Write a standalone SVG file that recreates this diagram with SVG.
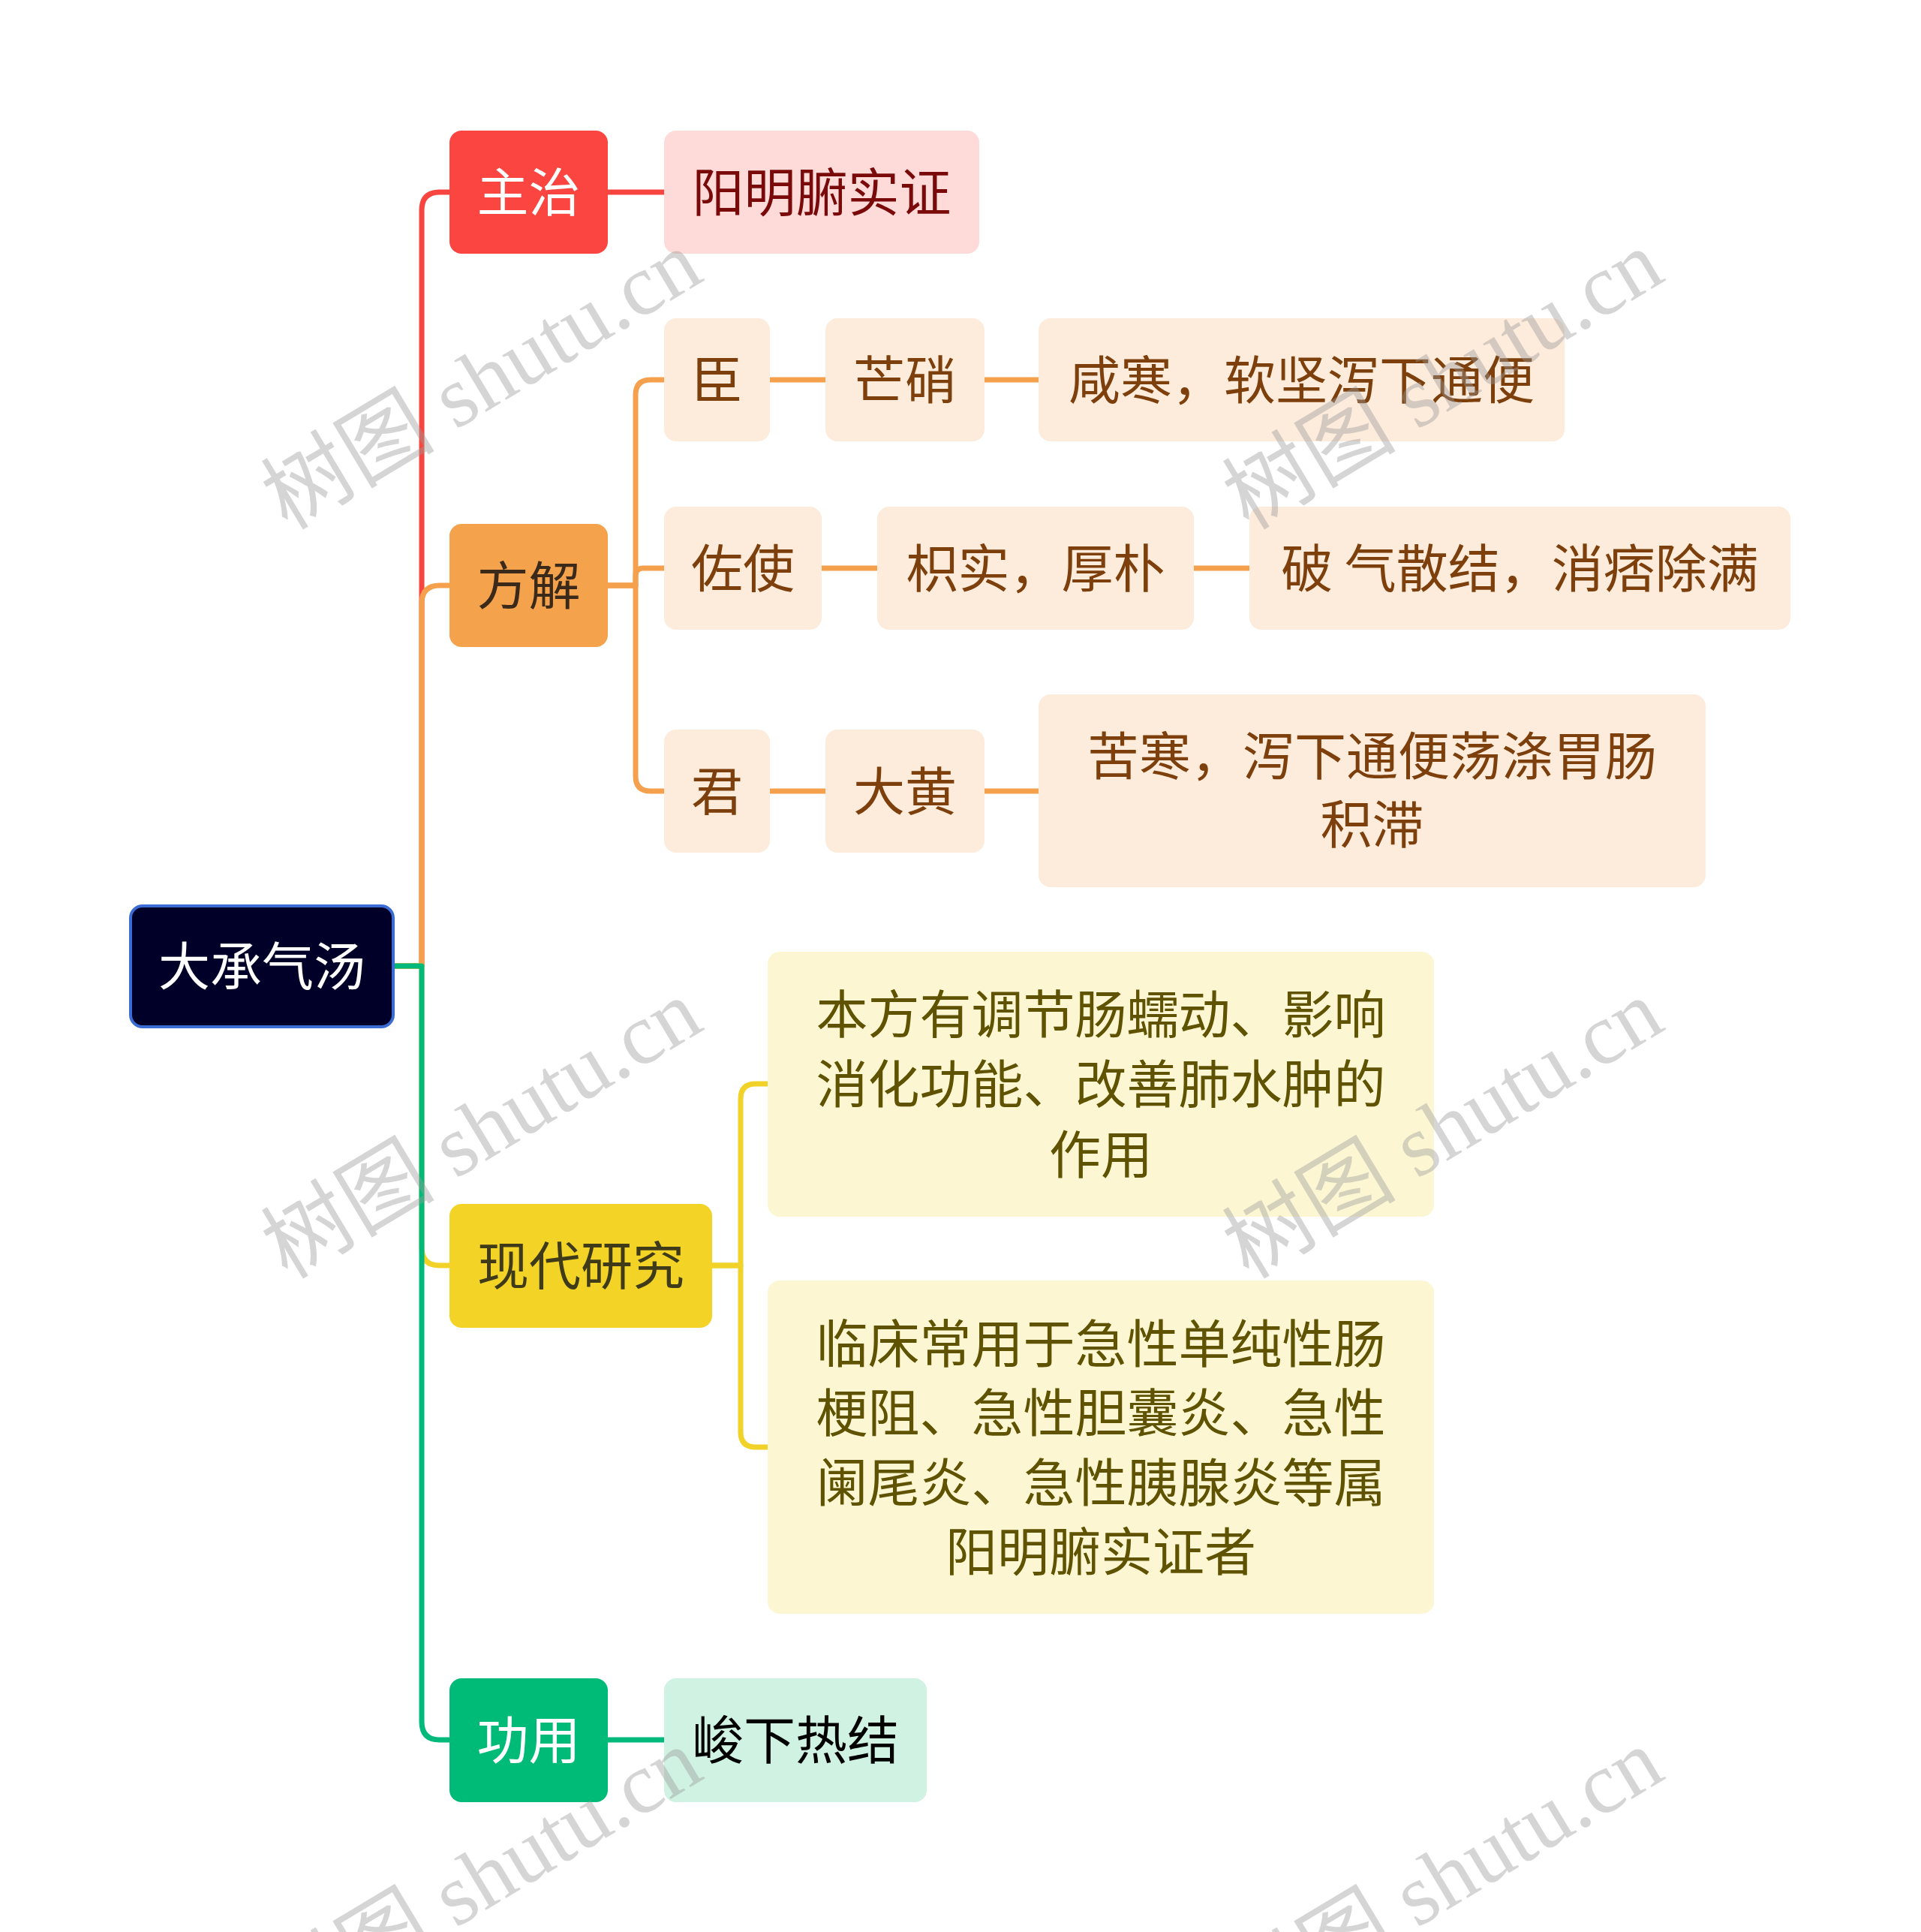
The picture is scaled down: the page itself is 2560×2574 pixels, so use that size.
<svg xmlns="http://www.w3.org/2000/svg" width="2560" height="2574" viewBox="0 0 2560 2574">
<style>
text{font-family:"Noto Sans CJK SC","Noto Sans",sans-serif;font-size:69px;text-anchor:middle}
.ln{fill:none;stroke-width:7;stroke-linecap:round;stroke-linejoin:round}
.red{stroke:#f8453f}.org{stroke:#f4a04c}.yel{stroke:#f0d228}.grn{stroke:#00b97a}
.pch{fill:#fdebdb}.pt{fill:#7d3f0b}
.ylt{fill:#fcf6d3}.yt{fill:#5f5200}
.wm{font-family:"Liberation Serif","Noto Sans CJK SC",serif;font-size:116px;fill:#9a9a9a;fill-opacity:0.42}
</style>
<rect width="2560" height="2574" fill="#ffffff"/>
<g id="connectors">
<path class="ln red" d="M524,1287 H562 V280 Q562,256 586,256 H599"/>
<path class="ln org" d="M524,1287 H562 V804 Q562,780 586,780 H599"/>
<path class="ln yel" d="M524,1287 H562 V1662 Q562,1686 586,1686 H599"/>
<path class="ln grn" d="M524,1287 H562 V2294 Q562,2318 586,2318 H599"/>
<path class="ln red" d="M810,256 H885"/>
<path class="ln org" d="M810,780 H847 V526 Q847,506 867,506 H885"/>
<path class="ln org" d="M810,780 H847 V767 Q847,757 857,757 H885"/>
<path class="ln org" d="M810,780 H847 V1034 Q847,1054 867,1054 H885"/>
<path class="ln org" d="M1026,506 H1100"/>
<path class="ln org" d="M1312,506 H1384"/>
<path class="ln org" d="M1095,757 H1169"/>
<path class="ln org" d="M1591,757 H1665"/>
<path class="ln org" d="M1026,1054 H1100"/>
<path class="ln org" d="M1312,1054 H1384"/>
<path class="ln yel" d="M949,1686 H987 V1464 Q987,1444 1007,1444 H1023"/>
<path class="ln yel" d="M949,1686 H987 V1908 Q987,1928 1007,1928 H1023"/>
<path class="ln grn" d="M810,2318 H885"/>
</g>
<g id="root">
<rect x="174" y="1207" width="350" height="161" rx="16" fill="#000028" stroke="#3a6cd4" stroke-width="4"/>
<text x="349" y="1313" fill="#ffffff">大承气汤</text>
</g>
<g id="zhuzhi">
<rect x="599" y="174" width="211" height="164" rx="16" fill="#fa4540"/>
<text x="704.5" y="282" fill="#ffffff">主治</text>
</g>
<g id="yangming">
<rect x="885" y="174" width="420" height="164" rx="16" fill="#fedad9"/>
<text x="1095" y="282" fill="#7a0a0a">阳明腑实证</text>
</g>
<g id="fangjie">
<rect x="599" y="698" width="211" height="164" rx="16" fill="#f5a24d"/>
<text x="704.5" y="806" fill="#3b2a1a">方解</text>
</g>
<g id="chen">
<rect class="pch" x="885" y="424" width="141" height="164" rx="16"/>
<text class="pt" x="955.5" y="532">臣</text>
</g>
<g id="mangxiao">
<rect class="pch" x="1100" y="424" width="212" height="164" rx="16"/>
<text class="pt" x="1206" y="532">芒硝</text>
</g>
<g id="xianhan">
<rect class="pch" x="1384" y="424" width="701" height="164" rx="16"/>
<text class="pt" x="1734.5" y="532">咸寒，软坚泻下通便</text>
</g>
<g id="zuoshi">
<rect class="pch" x="885" y="675" width="210" height="164" rx="16"/>
<text class="pt" x="990" y="783">佐使</text>
</g>
<g id="zhishi">
<rect class="pch" x="1169" y="675" width="422" height="164" rx="16"/>
<text class="pt" x="1380" y="783">枳实，厚朴</text>
</g>
<g id="poqi">
<rect class="pch" x="1665" y="675" width="721" height="164" rx="16"/>
<text class="pt" x="2025.5" y="783">破 气散结，消痞除满</text>
</g>
<g id="jun">
<rect class="pch" x="885" y="972" width="141" height="164" rx="16"/>
<text class="pt" x="955.5" y="1080">君</text>
</g>
<g id="dahuang">
<rect class="pch" x="1100" y="972" width="212" height="164" rx="16"/>
<text class="pt" x="1206" y="1080">大黄</text>
</g>
<g id="kuhan">
<rect class="pch" x="1384" y="925" width="889" height="257" rx="16"/>
<text class="pt" x="1828.5" y="1033">苦寒，泻下通便荡涤胃肠</text>
<text class="pt" x="1828.5" y="1124">积滞</text>
</g>
<g id="xiandai">
<rect x="599" y="1604" width="350" height="165" rx="16" fill="#f2d326"/>
<text x="774" y="1712" fill="#3f3a17">现代研究</text>
</g>
<g id="benfang">
<rect class="ylt" x="1023" y="1268" width="888" height="353" rx="16"/>
<text class="yt" x="1467" y="1377">本方有调节肠蠕动、影响</text>
<text class="yt" x="1467" y="1470">消化功能、改善肺水肿的</text>
<text class="yt" x="1467" y="1564">作用</text>
</g>
<g id="linchuang">
<rect class="ylt" x="1023" y="1706" width="888" height="444" rx="16"/>
<text class="yt" x="1467" y="1816">临床常用于急性单纯性肠</text>
<text class="yt" x="1467" y="1908">梗阻、急性胆囊炎、急性</text>
<text class="yt" x="1467" y="2001">阑尾炎、急性胰腺炎等属</text>
<text class="yt" x="1467" y="2093">阳明腑实证者</text>
</g>
<g id="gongyong">
<rect x="599" y="2236" width="211" height="165" rx="16" fill="#00ba78"/>
<text x="704.5" y="2344" fill="#ffffff">功用</text>
</g>
<g id="junxia">
<rect x="885" y="2236" width="350" height="165" rx="16" fill="#cff2e2"/>
<text x="1060" y="2344" fill="#000000">峻下热结</text>
</g>
<g id="watermark">
<text class="wm" transform="translate(662,540) rotate(-31)">树图 shutu.cn</text>
<text class="wm" transform="translate(1943,540) rotate(-31)">树图 shutu.cn</text>
<text class="wm" transform="translate(662,1538) rotate(-31)">树图 shutu.cn</text>
<text class="wm" transform="translate(1943,1538) rotate(-31)">树图 shutu.cn</text>
<text class="wm" transform="translate(662,2536) rotate(-31)">树图 shutu.cn</text>
<text class="wm" transform="translate(1943,2536) rotate(-31)">树图 shutu.cn</text>
</g>
</svg>
